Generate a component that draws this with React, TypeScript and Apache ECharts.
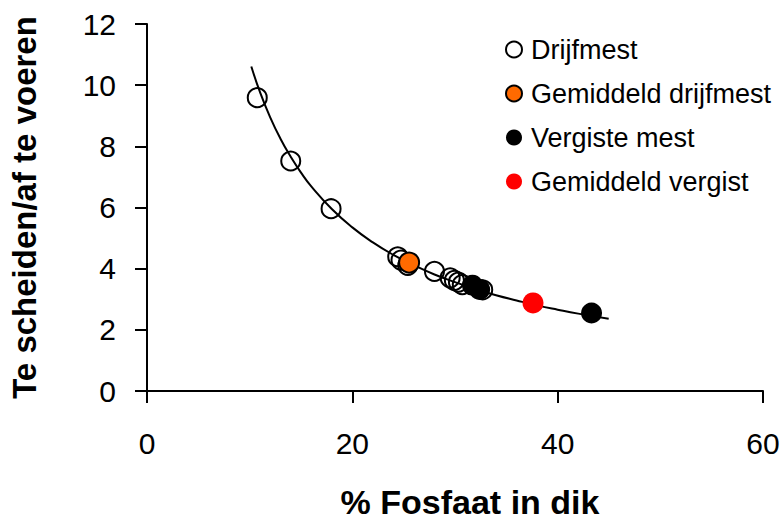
import React, { useEffect, useRef } from "react";
import * as echarts from "echarts";

const curveX = [10.16, 11, 12, 13, 14, 15, 16, 18, 20, 22, 24, 26, 28, 30, 32, 34, 36, 38, 40, 42, 44.97];
const curveY = [10.61, 9.78, 8.95, 8.25, 7.66, 7.14, 6.69, 5.95, 5.35, 4.86, 4.45, 4.11, 3.81, 3.56, 3.33, 3.13, 2.96, 2.8, 2.66, 2.53, 2.36];

const drijfX = [10.74, 14.0, 17.93, 24.42, 24.74, 25.4, 28.0, 29.53, 29.94, 30.33, 30.71, 32.7];
const drijfY = [9.59, 7.52, 5.96, 4.39, 4.28, 4.11, 3.91, 3.7, 3.62, 3.56, 3.48, 3.31];

const gemDrijfX = [25.53];
const gemDrijfY = [4.2];

const vergistX = [31.7, 32.4, 43.3];
const vergistY = [3.46, 3.32, 2.55];

const gemVergistX = [37.6];
const gemVergistY = [2.88];

const xTicks = { min: 0, max: 60, interval: 20 };
const yTicks = { min: 0, max: 12, interval: 2 };

const pairs = (xs: number[], ys: number[]) => xs.map((x, i) => [x, ys[i]]);

const FONT = "Liberation Sans, Arial, sans-serif";

export default function App() {
  const ref = useRef<HTMLDivElement>(null);
  useEffect(() => {
    if (!ref.current) return;
    const chart = echarts.init(ref.current, undefined, { renderer: "svg" });
    chart.setOption({
      animation: false,
      backgroundColor: "#ffffff",
      textStyle: { fontFamily: FONT },
      grid: { left: 137, right: 21, top: 24, bottom: 123, containLabel: false },
      legend: {
        orient: "vertical",
        left: 500,
        top: 31,
        itemWidth: 16,
        itemHeight: 16,
        itemGap: 17,
        textStyle: { fontSize: 27, color: "#000", fontFamily: FONT, padding: [0, 0, 0, 4] },
        data: ["Drijfmest", "Gemiddeld drijfmest", "Vergiste mest", "Gemiddeld vergist"],
      },
      xAxis: {
        type: "value",
        min: xTicks.min,
        max: xTicks.max,
        interval: xTicks.interval,
        name: "% Fosfaat in dik",
        nameLocation: "middle",
        nameGap: 94,
        nameTextStyle: { fontSize: 34, fontWeight: "bold", color: "#000", fontFamily: FONT, padding: [0, 0, 0, 30] },
        axisLine: { lineStyle: { color: "#000", width: 2 } },
        axisTick: { length: 12, lineStyle: { color: "#000", width: 2 } },
        axisLabel: { fontSize: 30, color: "#000", margin: 37, fontFamily: FONT },
        splitLine: { show: false },
      },
      yAxis: {
        type: "value",
        min: yTicks.min,
        max: yTicks.max,
        interval: yTicks.interval,
        name: "Te scheiden/af te voeren",
        nameLocation: "middle",
        nameGap: 106,
        nameTextStyle: { fontSize: 33, fontWeight: "bold", color: "#000", fontFamily: FONT },
        axisLine: { show: true, lineStyle: { color: "#000", width: 2 } },
        axisTick: { show: true, length: 12, lineStyle: { color: "#000", width: 2 } },
        axisLabel: { fontSize: 30, color: "#000", margin: 31, fontFamily: FONT },
        splitLine: { show: false },
      },
      series: [
        {
          name: "Drijfmest",
          type: "scatter",
          symbol: "circle",
          symbolSize: 19,
          itemStyle: { color: "rgba(255,255,255,0)", borderColor: "#000", borderWidth: 2, opacity: 1 },
          data: pairs(drijfX, drijfY),
          z: 2,
        },
        {
          name: "curve",
          type: "line",
          smooth: true,
          showSymbol: false,
          symbol: "none",
          lineStyle: { color: "#000", width: 2 },
          data: pairs(curveX, curveY),
          z: 3,
        },
        {
          name: "Gemiddeld drijfmest",
          type: "scatter",
          symbol: "circle",
          symbolSize: 20,
          itemStyle: { color: "#FF6A00", borderColor: "#000", borderWidth: 2, opacity: 1 },
          data: pairs(gemDrijfX, gemDrijfY),
          z: 4,
        },
        {
          name: "Vergiste mest",
          type: "scatter",
          symbol: "circle",
          symbolSize: 21,
          itemStyle: { color: "#000", opacity: 1 },
          data: pairs(vergistX, vergistY),
          z: 4,
        },
        {
          name: "Gemiddeld vergist",
          type: "scatter",
          symbol: "circle",
          symbolSize: 21,
          itemStyle: { color: "#FF0000", opacity: 1 },
          data: pairs(gemVergistX, gemVergistY),
          z: 4,
        },
      ],
    });
    return () => chart.dispose();
  }, []);
  return <div ref={ref} style={{ width: 784, height: 524, position: "absolute", left: 0, top: 0 }} />;
}
